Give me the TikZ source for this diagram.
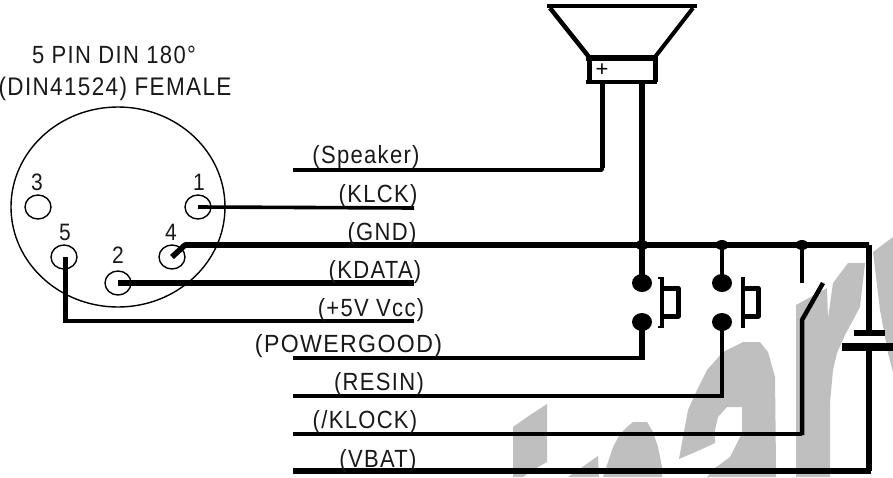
\documentclass[tikz,border=0pt]{standalone}
\usepackage{fontspec}
\setmainfont[LetterSpace=6]{Liberation Sans}
\usetikzlibrary{shapes.geometric}
\newcommand{\T}[1]{\scalebox{1}[1.13]{#1}}
\tikzset{
  lbl/.style={inner sep=0pt,anchor=base,font=\fontsize{22}{24}\selectfont,text=black!90},
  pinlbl/.style={inner sep=0pt,anchor=base,font=\fontsize{21}{24}\selectfont,text=black!90},
  pinhole/.style={draw,line width=1.4pt,ellipse,minimum width=26pt,minimum height=24pt,inner sep=0pt},
  mid wire/.style={line width=3.8pt},
  heavy wire/.style={line width=5.6pt},
  contact/.style={ellipse,fill=black,minimum width=20pt,minimum height=18pt,inner sep=0pt},
  jdot/.style={ellipse,fill=black,minimum width=13pt,minimum height=10pt,inner sep=0pt},
  wm/.style={fill=black!25,draw=none}
}
\begin{document}
\begin{tikzpicture}[x=1pt,y=-1pt,line join=round]
\useasboundingbox (0,0) rectangle (893,477);
% watermark
\fill[wm] (513,477) -- (513,427) -- (530,415) -- (547,404) -- (547,462) -- (533,470) -- (523,477) -- cycle;
\fill[wm] (568,477) -- (598,456) -- (599,477) -- cycle;
\fill[wm] (603,477) -- (613,447) -- (620,434) -- (627,427) -- (633,422) -- (647,422) -- (653,432) -- (658,447) -- (662,467) -- (662,477) -- cycle;
\fill[wm] (679,459) -- (688,410) -- (697,390) -- (707,370) -- (723,352) -- (743,342) -- (760,342) -- (768,352) -- (775,377) -- (776,467) -- (776,477) -- (707,477) -- (715,468) -- (730,457) -- (742,433) -- (742,407) -- (727,407) -- (718,417) -- (715,430) -- (715,443) -- (700,450) -- cycle;
\fill[wm] (796,477) -- (796,305) -- (827,288) -- (828,318) -- (833,283) -- (848,263) -- (865,263) -- (860,307) -- (845,335) -- (837,353) -- (833,370) -- (830,403) -- (830,477) -- cycle;
\fill[wm] (873,252) -- (893,237) -- (893,372) -- (888,353) -- (880,310) -- cycle;
% captions
\node[lbl] (t1) at (114,63) {\T{5 PIN DIN 180°}};
\node[lbl,font=\fontsize{22.5}{24}\selectfont] (t2) at (115,95) {\T{(DIN41524) FEMALE}};
% connector
\node[draw,line width=1.4pt,ellipse,minimum width=214pt,minimum height=200pt,inner sep=0pt] (din) at (118,207) {};
\node[pinhole] (p3) at (38,207) {};
\node[pinhole] (p1) at (198,207) {};
\node[pinhole] (p5) at (64,257) {};
\node[pinhole] (p4) at (172,257) {};
\node[pinhole] (p2) at (118,283) {};
\node[pinlbl] (n3) at (37,190) {\T{3}};
\node[pinlbl] (n1) at (199,190) {\T{1}};
\node[pinlbl] (n5) at (65,240) {\T{5}};
\node[pinlbl] (n4) at (171,240) {\T{4}};
\node[pinlbl] (n2) at (118,263) {\T{2}};
% speaker
\draw[line width=4pt] (547,6) -- (697,6);
\draw[line width=4.5pt] (550,8) -- (589,57);
\draw[line width=4pt] (693,8) -- (655,57);
\draw[line width=5.5pt] (586,58) -- (658,58);
\draw[line width=5pt] (589,56) -- (589,82);
\draw[line width=5pt] (655,56) -- (655,82);
\draw[line width=3.5pt] (586,82) -- (657,82);
\node[font=\fontsize{22}{22}\selectfont,inner sep=0pt] (plus) at (602,70) {+};
\coordinate (spkL) at (602,82);
\coordinate (spkR) at (642,82);
% junction dots and contacts
\node[jdot] (j1) at (642,245) {};
\node[jdot] (j2) at (722,245) {};
\node[jdot] (j3) at (802,245) {};
\node[contact] (a1) at (642,283) {};
\node[contact] (a2) at (642,322) {};
\node[contact] (b1) at (722,283) {};
\node[contact] (b2) at (722,322) {};
% wires
\coordinate (spkW) at (293,170);
\coordinate (klckE) at (414,208);
\coordinate (kdatE) at (414,283);
\coordinate (vccE) at (414,321);
\coordinate (gndK) at (185,245);
\coordinate (gndR) at (869,245);
\coordinate (pgW) at (293,358);
\coordinate (rsW) at (293,396);
\coordinate (klW) at (293,434);
\coordinate (vbW) at (293,471);
\draw[line width=5pt] (spkL) -- (602,168);
\draw[mid wire] (spkW) -- (602,170) -- (602,165);
\draw[line width=3.6pt] (p1.center) -- (klckE);
\draw[heavy wire] (p4.center) -- (gndK) -- (gndR);
\draw[heavy wire] (p2.center) -- (kdatE);
\draw[line width=5pt] (65,257) -- (65,321);
\draw[mid wire] (63,321) -- (vccE);
\draw[line width=6pt] (spkR) -- (j1.center);
\draw[line width=5.5pt] (j1.center) -- (a1.center);
\draw[line width=4pt] (pgW) -- (642,358);
\draw[line width=5.5pt] (642,360) -- (a2.center);
\draw[line width=4.5pt] (j2.center) -- (b1.center);
\draw[line width=4.5pt] (722,398) -- (b2.center);
\draw[line width=3.8pt] (rsW) -- (724,396);
% push buttons
\draw[line width=4.5pt] (662,277) -- (662,328);
\draw[line width=2.5pt] (658,278) -- (662,278) (658,327) -- (662,327);
\draw[line width=5pt] (662,288) -- (678,288) -- (678,316) -- (662,316);
\draw[line width=4.5pt] (743,277) -- (743,328);
\draw[line width=5pt] (743,288) -- (758,288) -- (758,316) -- (743,316);
% switch
\draw[line width=4.5pt] (j3.center) -- (802,283);
\draw[line width=3.8pt] (klW) -- (802,434);
\draw[line width=4.5pt] (802,435) -- (802,320) -- (823,283);
% battery
\draw[line width=5.5pt] (gndR) -- (869,333);
\draw[line width=6pt] (854,333) -- (885,333);
\draw[line width=8pt] (842,347) -- (893,347);
\draw[line width=5.5pt] (869,347) -- (869,471);
\draw[heavy wire] (vbW) -- (871,471);
% labels
\node[lbl] at (366,163) {\T{(Speaker)}};
\node[lbl] at (378,202) {\T{(KLCK)}};
\node[lbl] at (382,240) {\T{(GND)}};
\node[lbl] at (375,278) {\T{(KDATA)}};
\node[lbl] at (371,316) {\T{(+5V Vcc)}};
\node[lbl] at (348.5,352) {\scalebox{1.05}[1.13]{(POWERGOOD)}};
\node[lbl] at (379,390) {\T{(RESIN)}};
\node[lbl] at (365,428) {\T{(/KLOCK)}};
\node[lbl] at (378,467) {\T{(VBAT)}};
\end{tikzpicture}
\end{document}
